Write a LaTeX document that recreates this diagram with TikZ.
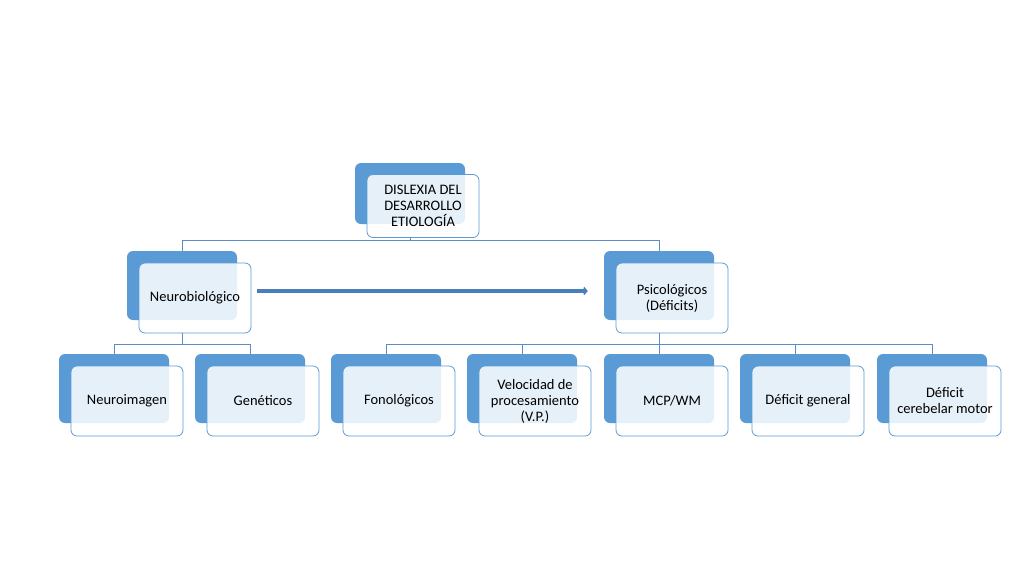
\documentclass[tikz,border=0pt]{standalone}
\usepackage{fontspec}
\setmainfont{Carlito}
\usetikzlibrary{arrows.meta}
\definecolor{azul}{HTML}{5B9BD5}
\definecolor{azulosc}{HTML}{4A7EBB}
\definecolor{linea}{HTML}{5A8DC6}
\begin{document}
\begin{tikzpicture}[x=1pt,y=-1pt,
	fondo/.style={fill=azul,rounded corners=6pt,minimum width=110pt,minimum height=69pt,inner sep=0pt},
	caja/.style={draw=azul,line width=.8pt,fill=white,fill opacity=.85,text opacity=1,rounded corners=6pt,
		minimum width=112pt,minimum height=70pt,inner sep=2pt,align=center,font=\fontsize{14.5}{16}\selectfont},
	conector/.style={draw=linea,line width=.8pt},
	flecha/.style={draw=azulosc,line width=3.2pt,-{Straight Barb[length=3pt,width=7pt,line width=1.5pt]}}]
	\fill[white] (0,0) rectangle (1024,576);
	\useasboundingbox (0,0) rectangle (1024,576);
	% raiz
	\node[fondo,minimum height=61pt] (raiz-b) at (410,193.5) {};
	\node[caja,minimum height=63pt] (raiz) at ([shift={(13,12.5)}]raiz-b) {DISLEXIA DEL\\DESARROLLO\\ETIOLOGÍA};
	% nivel 2
	\node[fondo] (neuro-b) at (182,285.5) {};
	\node[caja] (neuro) at ([shift={(13,12.5)}]neuro-b) {Neurobiológico};
	\node[fondo] (psico-b) at (659,285.5) {};
	\node[caja] (psico) at ([shift={(13,12.5)}]psico-b) {Psicológicos\\(Déficits)};
	% nivel 3
	\node[fondo] (img-b) at (114,388.5) {};
	\node[caja] (img) at ([shift={(13,12.5)}]img-b) {Neuroimagen};
	\node[fondo] (gen-b) at (250,388.5) {};
	\node[caja] (gen) at ([shift={(13,12.5)}]gen-b) {Genéticos};
	\node[fondo] (fon-b) at (386,388.5) {};
	\node[caja] (fon) at ([shift={(13,12.5)}]fon-b) {Fonológicos};
	\node[fondo] (vel-b) at (522,388.5) {};
	\node[caja] (vel) at ([shift={(13,12.5)}]vel-b) {Velocidad de\\procesamiento\\(V.P.)};
	\node[fondo] (mcp-b) at (659,388.5) {};
	\node[caja] (mcp) at ([shift={(13,12.5)}]mcp-b) {MCP/WM};
	\node[fondo] (gral-b) at (795,388.5) {};
	\node[caja] (gral) at ([shift={(13,12.5)}]gral-b) {Déficit general};
	\node[fondo] (cereb-b) at (932,388.5) {};
	\node[caja] (cereb) at ([shift={(13,12.5)}]cereb-b) {Déficit\\cerebelar motor};
	% conectores
	\draw[conector] (raiz-b |- raiz.south) -- ++(0,2) -| (neuro-b.north);
	\draw[conector] (raiz-b |- raiz.south) -- ++(0,2) -| (psico-b.north);
	\foreach \h in {img,gen}
		\draw[conector] (neuro-b |- neuro.south) -- ++(0,10.5) -| (\h-b.north);
	\foreach \h in {fon,vel,mcp,gral,cereb}
		\draw[conector] (psico-b |- psico.south) -- ++(0,10.5) -| (\h-b.north);
	% flecha
	\path ([yshift=7pt]neuro.east) coordinate (ini);
	\draw[flecha,shorten <=6pt,shorten >=16pt] (ini) -- (ini -| psico-b.west);
\end{tikzpicture}
\end{document}
